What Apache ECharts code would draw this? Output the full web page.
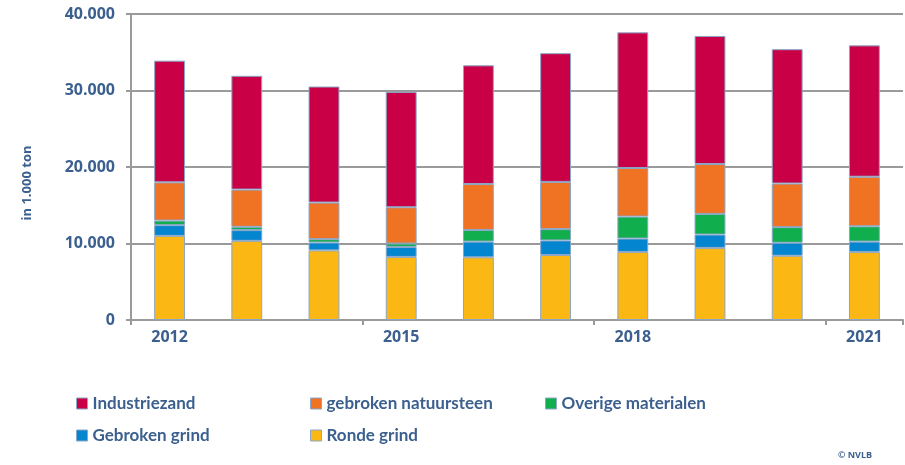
<!DOCTYPE html>
<html>
<head>
<meta charset="utf-8">
<script src="https://cdn.jsdelivr.net/npm/echarts@6/dist/echarts.min.js"></script>
<style>
  html, body { margin: 0; padding: 0; background: #fff; }
  #chart { width: 905px; height: 465px; }
</style>
</head>
<body>
<div id="chart"></div>
<script>
const years = ["2012", "2013", "2014", "2015", "2016", "2017", "2018", "2019", "2020", "2021"];
const rondeGrind = [11000, 10350, 9100, 8250, 8200, 8500, 8900, 9430, 8400, 8900];
const gebrokenGrind = [1400, 1400, 1030, 1300, 2050, 1900, 1750, 1740, 1700, 1350];
const overigeMaterialen = [600, 430, 440, 450, 1520, 1480, 2870, 2700, 2040, 2000];
const gebrokenNatuursteen = [5000, 4870, 4780, 4740, 6000, 6170, 6350, 6520, 5700, 6480];
const industriezand = [15900, 14870, 15170, 15080, 15520, 16830, 17730, 16740, 17560, 17170];

const textColor = "#3b5f8e";
const gridColor = "#9a9a9a";

const fmt = v => String(v).replace(/\B(?=(\d{3})+(?!\d))/g, ".");

const chart = echarts.init(document.getElementById("chart"));

function bar(name, data, color) {
  return {
    name: name,
    type: "bar",
    stack: "total",
    data: data,
    barWidth: "40%",
    itemStyle: { color: color, borderColor: "#8aa6c8", borderWidth: 1 }
  };
}

// one legend per entry so the columns line up like the original
function legendAt(name, left, top) {
  return {
    data: [name],
    left: left,
    top: top,
    padding: 0,
    itemWidth: 11,
    itemHeight: 11,
    icon: "rect",
    textStyle: { color: textColor, fontSize: 17, fontWeight: "bold", fontFamily: "Lato" },
    itemStyle: { borderColor: "#8aa6c8", borderWidth: 1 }
  };
}

chart.setOption({
  animation: false,
  grid: { left: 131, right: 2, top: 14, bottom: 145 },
  xAxis: {
    type: "category",
    data: years,
    axisLine: { lineStyle: { color: gridColor, width: 2 } },
    axisTick: { show: true, length: 5, lineStyle: { color: gridColor, width: 2 } },
    axisLabel: {
      interval: 2,
      color: textColor,
      fontSize: 16,
      fontWeight: "bold",
      fontFamily: "Open Sans",
      margin: 9
    }
  },
  yAxis: {
    type: "value",
    min: 0,
    max: 40000,
    interval: 10000,
    axisLine: { show: true, lineStyle: { color: gridColor, width: 2 } },
    axisTick: { show: true, length: 5, lineStyle: { color: gridColor, width: 2 } },
    splitLine: { lineStyle: { color: gridColor, width: 2 } },
    axisLabel: {
      formatter: fmt,
      color: textColor,
      fontSize: 16,
      fontWeight: "bold",
      fontFamily: "Open Sans",
      margin: 16
    }
  },
  legend: [
    legendAt("Industriezand", 76, 395),
    legendAt("gebroken natuursteen", 310, 395),
    legendAt("Overige materialen", 545, 395),
    legendAt("Gebroken grind", 76, 427),
    legendAt("Ronde grind", 310, 427)
  ],
  graphic: [
    {
      type: "text",
      x: 27,
      y: 183,
      rotation: Math.PI / 2,
      style: {
        text: "in 1.000 ton",
        fill: textColor,
        font: "bold 13px 'Open Sans'",
        align: "center",
        verticalAlign: "middle"
      }
    },
    {
      type: "text",
      x: 855,
      y: 455,
      style: {
        text: "© NVLB",
        fill: textColor,
        font: "bold 9px 'Open Sans'",
        align: "center",
        verticalAlign: "middle"
      }
    }
  ],
  series: [
    bar("Ronde grind", rondeGrind, "#fbb714"),
    bar("Gebroken grind", gebrokenGrind, "#0485cf"),
    bar("Overige materialen", overigeMaterialen, "#10ae4c"),
    bar("gebroken natuursteen", gebrokenNatuursteen, "#f07223"),
    bar("Industriezand", industriezand, "#c90045")
  ]
});
</script>
</body>
</html>
